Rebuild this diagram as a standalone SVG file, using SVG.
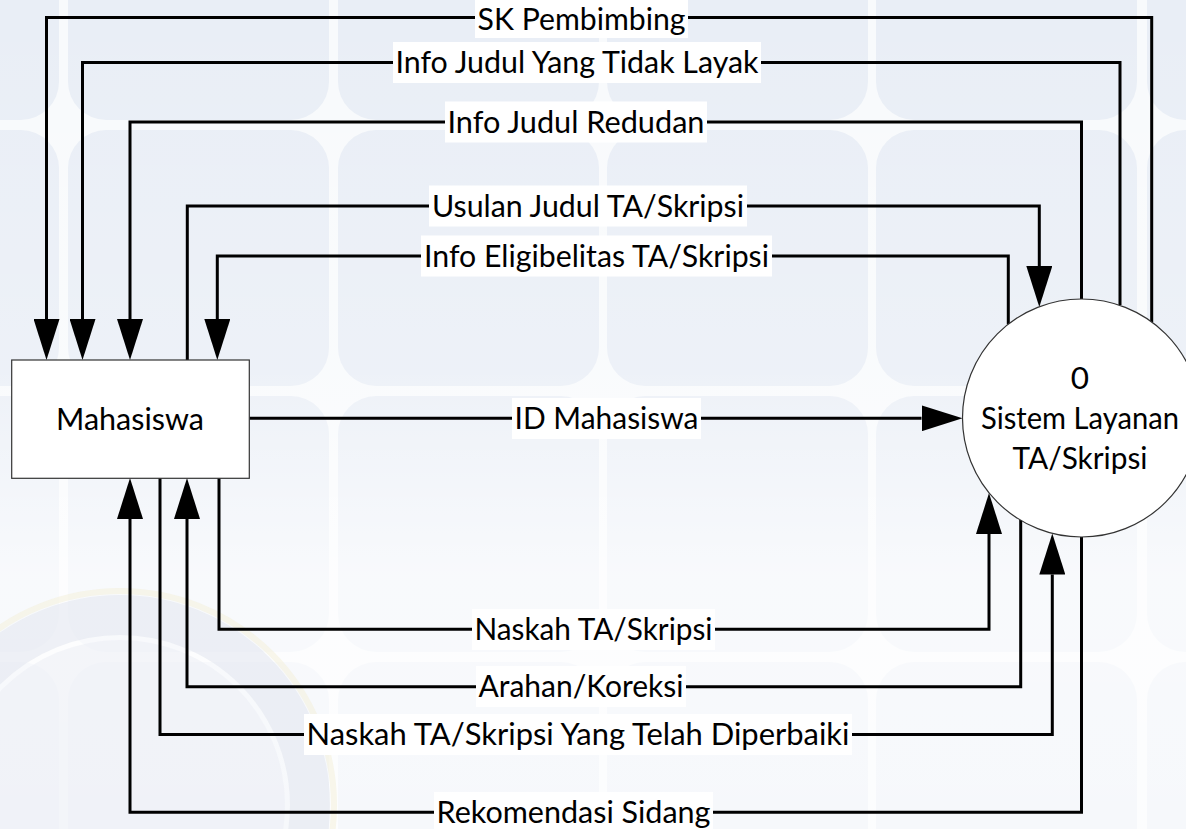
<svg xmlns="http://www.w3.org/2000/svg" width="1186" height="829" viewBox="0 0 1186 829">
  <defs>
    <linearGradient id="fade" x1="0" y1="0" x2="0" y2="1">
      <stop offset="0" stop-color="#ffffff" stop-opacity="0"/>
      <stop offset="0.45" stop-color="#ffffff" stop-opacity="0.2"/>
      <stop offset="0.7" stop-color="#ffffff" stop-opacity="0.7"/>
      <stop offset="1" stop-color="#ffffff" stop-opacity="0.6"/>
    </linearGradient>
    <marker id="arrow" markerUnits="userSpaceOnUse" viewBox="0 0 41 26" refX="0" refY="13" markerWidth="41" markerHeight="26" orient="auto">
      <path d="M0,0 L41,13 L0,26 z" fill="#000"/>
    </marker>
  </defs>
  <style>
    .tile { fill: #e9eef6; }
    .flow { fill: none; stroke: #000; stroke-width: 3; }
    .arr { marker-end: url(#arrow); }
    .lbg { fill: #ffffff; }
    .lbl { font-family: Lato, "Open Sans", sans-serif; font-size: 31.5px; fill: #000; text-anchor: middle; }
    .node { fill: #ffffff; stroke: #333; stroke-width: 1.2; }
  </style>

  <!-- background -->
  <g id="background">
    <rect x="0" y="0" width="1186" height="829" fill="#f8fafc"/>
    <rect class="tile" x="-202" y="-138" width="261" height="258" rx="38"/>
    <rect class="tile" x="68" y="-138" width="261" height="258" rx="38"/>
    <rect class="tile" x="338" y="-138" width="261" height="258" rx="38"/>
    <rect class="tile" x="607" y="-138" width="261" height="258" rx="38"/>
    <rect class="tile" x="876" y="-138" width="261" height="258" rx="38"/>
    <rect class="tile" x="1147" y="-138" width="261" height="258" rx="38"/>
    <rect class="tile" x="-202" y="130" width="261" height="256" rx="38"/>
    <rect class="tile" x="68" y="130" width="261" height="256" rx="38"/>
    <rect class="tile" x="338" y="130" width="261" height="256" rx="38"/>
    <rect class="tile" x="607" y="130" width="261" height="256" rx="38"/>
    <rect class="tile" x="876" y="130" width="261" height="256" rx="38"/>
    <rect class="tile" x="1147" y="130" width="261" height="256" rx="38"/>
    <rect class="tile" x="-202" y="396" width="261" height="256" rx="38"/>
    <rect class="tile" x="68" y="396" width="261" height="256" rx="38"/>
    <rect class="tile" x="338" y="396" width="261" height="256" rx="38"/>
    <rect class="tile" x="607" y="396" width="261" height="256" rx="38"/>
    <rect class="tile" x="876" y="396" width="261" height="256" rx="38"/>
    <rect class="tile" x="1147" y="396" width="261" height="256" rx="38"/>
    <rect class="tile" x="-202" y="662" width="261" height="256" rx="38"/>
    <rect class="tile" x="68" y="662" width="261" height="256" rx="38"/>
    <rect class="tile" x="338" y="662" width="261" height="256" rx="38"/>
    <rect class="tile" x="607" y="662" width="261" height="256" rx="38"/>
    <rect class="tile" x="876" y="662" width="261" height="256" rx="38"/>
    <rect class="tile" x="1147" y="662" width="261" height="256" rx="38"/>
    <rect x="0" y="0" width="1186" height="829" fill="url(#fade)"/>
    <circle cx="120" cy="805" r="214" fill="none" stroke="#f4efd8" stroke-width="6" opacity="0.5"/>
    <circle cx="120" cy="805" r="190" fill="none" stroke="#dfe4ee" stroke-width="40" opacity="0.5"/>
    <circle cx="120" cy="805" r="165" fill="#e8ecf3" opacity="0.45"/>
  </g>

  <!-- connectors -->
  <g id="connectors">
    <path class="flow arr" d="M1151.7,322 V17.5 H46.5 V319"/>
    <path class="flow arr" d="M1120,305 V62.5 H82.5 V319"/>
    <path class="flow arr" d="M1081.5,299 V122 H130 V319"/>
    <path class="flow arr" d="M187.3,360 V206 H1039.3 V266"/>
    <path class="flow arr" d="M1008.3,324 V256 H217.3 V319"/>
    <path class="flow arr" d="M249.3,418.3 H921.5"/>
    <path class="flow arr" d="M219,478 V629.3 H989 V534"/>
    <path class="flow arr" d="M1020.7,520 V686.7 H187 V519"/>
    <path class="flow arr" d="M160,478 V734.5 H1052.3 V574.5"/>
    <path class="flow arr" d="M1081.5,537 V812.3 H130 V519"/>

    <g id="labels">
      <rect class="lbg" x="475" y="0" width="213" height="38"/>
      <text class="lbl" x="581.5" y="30" textLength="208" lengthAdjust="spacingAndGlyphs">SK Pembimbing</text>
      <rect class="lbg" x="393" y="42" width="368" height="41"/>
      <text class="lbl" x="577" y="73" textLength="363" lengthAdjust="spacingAndGlyphs">Info Judul Yang Tidak Layak</text>
      <rect class="lbg" x="445" y="101.5" width="262" height="41"/>
      <text class="lbl" x="576" y="132.5" textLength="257" lengthAdjust="spacingAndGlyphs">Info Judul Redudan</text>
      <rect class="lbg" x="429" y="185.5" width="318" height="41"/>
      <text class="lbl" x="588" y="216.5" textLength="312" lengthAdjust="spacingAndGlyphs">Usulan Judul TA/Skripsi</text>
      <rect class="lbg" x="421" y="235.5" width="351" height="41"/>
      <text class="lbl" x="596.5" y="266.5" textLength="345" lengthAdjust="spacingAndGlyphs">Info Eligibelitas TA/Skripsi</text>
      <rect class="lbg" x="512" y="398" width="189" height="41"/>
      <text class="lbl" x="606.5" y="429" textLength="184" lengthAdjust="spacingAndGlyphs">ID Mahasiswa</text>
      <rect class="lbg" x="472" y="609" width="243" height="41"/>
      <text class="lbl" x="593.5" y="640" textLength="238" lengthAdjust="spacingAndGlyphs">Naskah TA/Skripsi</text>
      <rect class="lbg" x="476" y="666" width="210" height="41"/>
      <text class="lbl" x="581" y="697" textLength="205" lengthAdjust="spacingAndGlyphs">Arahan/Koreksi</text>
      <rect class="lbg" x="304" y="714" width="548" height="41"/>
      <text class="lbl" x="578" y="745" textLength="543" lengthAdjust="spacingAndGlyphs">Naskah TA/Skripsi Yang Telah Diperbaiki</text>
      <rect class="lbg" x="434" y="792" width="279" height="37"/>
      <text class="lbl" x="573.5" y="823" textLength="274" lengthAdjust="spacingAndGlyphs">Rekomendasi Sidang</text>
    </g>
  </g>

  <!-- nodes -->
  <g id="mahasiswa">
    <rect class="node" x="11.7" y="360" width="237.6" height="118.3"/>
    <text class="lbl" x="130" y="429.5" textLength="148" lengthAdjust="spacingAndGlyphs">Mahasiswa</text>
  </g>
  <g id="sistem">
    <circle class="node" cx="1081.5" cy="418" r="119"/>
    <text class="lbl" x="1080" y="389">0</text>
    <text class="lbl" x="1080" y="429" textLength="198" lengthAdjust="spacingAndGlyphs">Sistem Layanan</text>
    <text class="lbl" x="1080" y="469" textLength="135" lengthAdjust="spacingAndGlyphs">TA/Skripsi</text>
  </g>
</svg>
